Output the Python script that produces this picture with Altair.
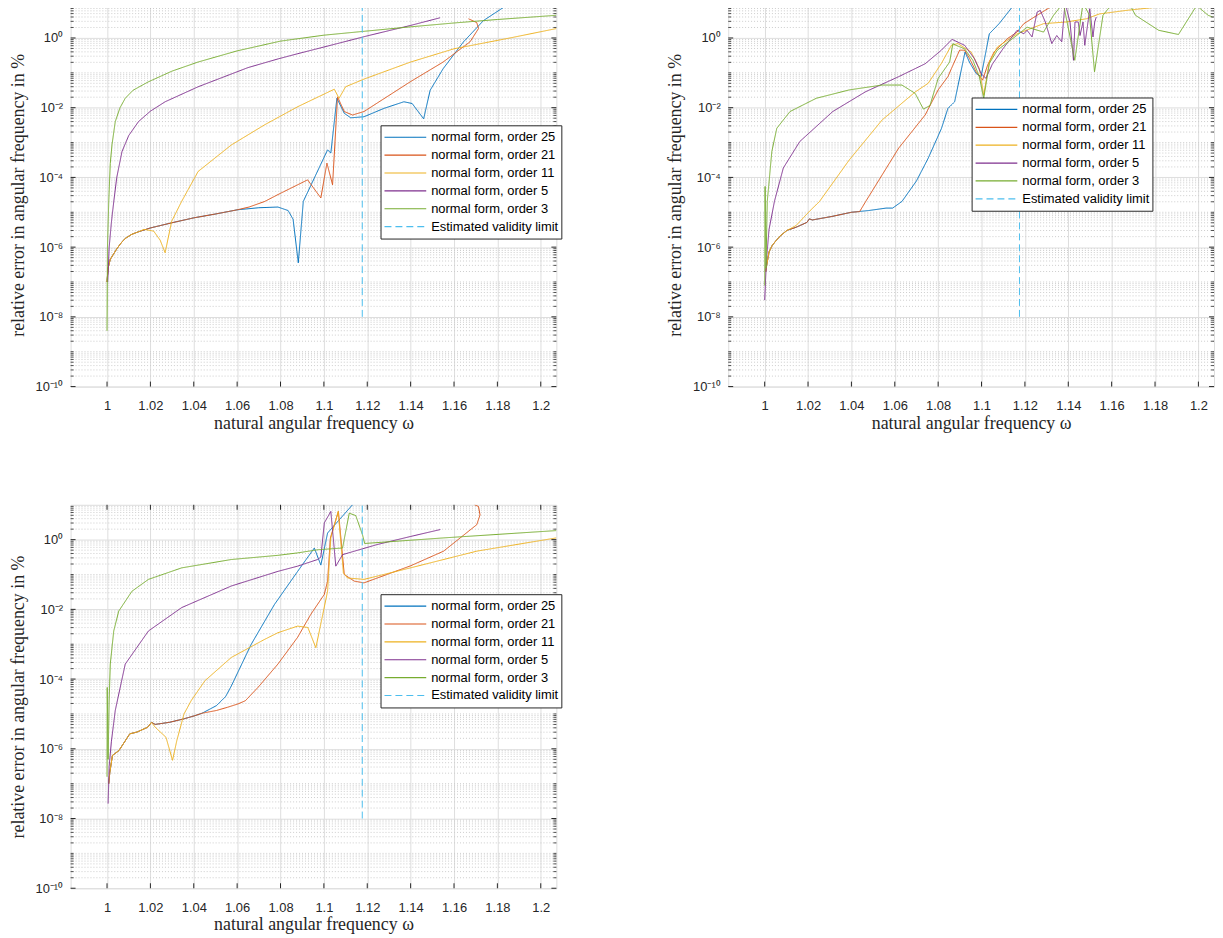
import altair as alt
import pandas as pd

# ---------------- categories / styling lists ----------------
SERIES = ["normal form, order 25", "normal form, order 21", "normal form, order 11",
          "normal form, order 5", "normal form, order 3", "Estimated validity limit"]
COLORS = ["#0072BD", "#D95319", "#EDB120", "#7E2F8E", "#77AC30", "#4DBEEE"]
DASHES = [[1, 0], [1, 0], [1, 0], [1, 0], [1, 0], [7, 4]]

X_TICKS = [1.0, 1.02, 1.04, 1.06, 1.08, 1.1, 1.12, 1.14, 1.16, 1.18, 1.2]
Y_TICKS = [1e-10, 1e-8, 1e-6, 1e-4, 1e-2, 1e0]
X_DOMAIN = [0.9832, 1.2072]
Y_DOMAIN = [1e-10, 10]

# ---------------- panel A (top left): omega and log10(error %) ----------------
A_o25_w = [1.0, 1.0005, 1.0015, 1.003, 1.0045, 1.0065, 1.0084, 1.0115, 1.0145, 1.02, 1.03, 1.04, 1.05, 1.06,
           1.07, 1.0788, 1.0835, 1.0858, 1.0882, 1.0905, 1.1017, 1.1032, 1.106, 1.1094, 1.1124, 1.1185, 1.1277,
           1.1369, 1.1407, 1.146, 1.149, 1.155, 1.1644, 1.1736, 1.1858]
A_o25_e = [-7.0, -6.6, -6.35, -6.2, -6.05, -5.88, -5.75, -5.63, -5.56, -5.45, -5.3, -5.16, -5.05, -4.93,
           -4.87, -4.85, -4.95, -5.2, -6.45, -4.69, -3.21, -3.3, -1.73, -2.16, -2.29, -2.26, -2.02,
           -1.83, -1.88, -2.32, -1.5, -0.88, -0.11, 0.5, 1.0]
A_o21_w = [1.0, 1.0005, 1.0015, 1.003, 1.0045, 1.0065, 1.0084, 1.0115, 1.0145, 1.02, 1.03, 1.04, 1.05, 1.06,
           1.0655, 1.0727, 1.0789, 1.0925, 1.0986, 1.1014, 1.104, 1.1063, 1.1094, 1.1132, 1.1185, 1.14, 1.155,
           1.1674, 1.1713, 1.1705, 1.1667]
A_o21_e = [-7.0, -6.6, -6.35, -6.2, -6.05, -5.88, -5.75, -5.63, -5.56, -5.45, -5.3, -5.16, -5.05, -4.93,
           -4.85, -4.69, -4.49, -4.07, -4.59, -3.59, -4.21, -1.69, -2.11, -2.21, -2.11, -1.25, -0.69,
           -0.11, 0.27, 0.44, 0.55]
A_o11_w = [1.0, 1.0005, 1.0015, 1.003, 1.0045, 1.0065, 1.0084, 1.0115, 1.0145, 1.017, 1.0215, 1.0245, 1.0268,
           1.0298, 1.0344, 1.042, 1.0573, 1.0727, 1.088, 1.1048, 1.107, 1.110, 1.1185, 1.14, 1.16, 1.1858, 1.2072]
A_o11_e = [-7.0, -6.6, -6.35, -6.2, -6.05, -5.88, -5.75, -5.63, -5.56, -5.49, -5.54, -5.8, -6.16,
           -5.26, -4.69, -3.83, -3.07, -2.49, -1.97, -1.47, -1.73, -1.4, -1.18, -0.69, -0.31, 0.0, 0.27]
A_o5_w = [1.0003, 1.001, 1.002, 1.0031, 1.0045, 1.0069, 1.01, 1.0145, 1.02, 1.0268, 1.042, 1.065, 1.0789,
          1.088, 1.1, 1.12, 1.14, 1.1536]
A_o5_e = [-7.0, -6.0, -5.3, -4.7, -4.0, -3.26, -2.8, -2.4, -2.1, -1.83, -1.4, -0.85, -0.6,
          -0.45, -0.26, 0.06, 0.36, 0.58]
A_o3_w = [1.0, 1.0002, 1.0008, 1.0015, 1.0023, 1.0038, 1.006, 1.0084, 1.012, 1.019, 1.03, 1.042, 1.06, 1.08,
          1.1, 1.12, 1.14, 1.16, 1.18, 1.2072]
A_o3_e = [-8.4, -6.0, -4.7, -3.6, -3.06, -2.4, -2.0, -1.73, -1.5, -1.26, -0.95, -0.69, -0.37, -0.09,
          0.08, 0.2, 0.32, 0.43, 0.53, 0.65]
A_lim_w = [1.1177, 1.1177]
A_lim_e = [-8.0, 1.0]

# ---------------- panel B (top right) ----------------
B_o25_w = [1.0005, 1.001, 1.002, 1.0035, 1.0053, 1.0075, 1.0103, 1.0145, 1.0195, 1.0206, 1.022, 1.031, 1.040,
           1.048, 1.056, 1.059, 1.0633, 1.07, 1.0754, 1.0815, 1.0845, 1.0876, 1.0924, 1.0944, 1.0975, 1.0998,
           1.102, 1.1036, 1.1081, 1.1142]
B_o25_e = [-6.7, -6.5, -6.14, -5.95, -5.81, -5.66, -5.52, -5.43, -5.29, -5.19, -5.22, -5.12, -5.0,
           -4.95, -4.88, -4.88, -4.69, -4.1, -3.45, -2.6, -2.02, -1.83, -0.4, -0.69, -1.02, -1.11,
           -0.4, 0.12, 0.41, 0.89]
B_o21_w = [1.0005, 1.001, 1.002, 1.0035, 1.0053, 1.0075, 1.0103, 1.0145, 1.0195, 1.0206, 1.022, 1.031, 1.040,
           1.0438, 1.0466, 1.0618, 1.074, 1.08, 1.0846, 1.0861, 1.0899, 1.0922, 1.0945, 1.0975, 1.1005, 1.1028,
           1.1058, 1.1119, 1.1164, 1.1195, 1.1256, 1.1316]
B_o21_e = [-6.7, -6.5, -6.14, -5.95, -5.81, -5.66, -5.52, -5.43, -5.29, -5.19, -5.22, -5.12, -5.0,
           -4.98, -4.69, -3.16, -2.21, -1.49, -1.1, -0.88, -0.35, -0.35, -0.59, -0.97, -1.21, -0.78,
           -0.4, -0.02, 0.17, 0.41, 0.65, 0.88]
B_o11_w = [1.0005, 1.001, 1.002, 1.0035, 1.0053, 1.0075, 1.0103, 1.0145, 1.021, 1.0253, 1.039, 1.0542, 1.0694,
           1.0754, 1.0815, 1.0861, 1.0891, 1.0952, 1.099, 1.101, 1.1036, 1.1073, 1.1164, 1.1286, 1.1392, 1.1483,
           1.1544, 1.1666, 1.1817, 1.1969, 1.2066]
B_o11_e = [-6.7, -6.5, -6.14, -5.95, -5.81, -5.66, -5.52, -5.38, -4.95, -4.69, -3.5, -2.35, -1.55,
           -1.3, -0.73, -0.21, -0.16, -0.4, -0.88, -1.64, -0.69, -0.26, 0.12, 0.41, 0.46, 0.55,
           0.69, 0.79, 0.89, 0.95, 0.97]
B_o5_w = [1.0, 1.0008, 1.002, 1.0045, 1.0086, 1.0162, 1.0314, 1.0466, 1.0618, 1.074, 1.0815, 1.0864, 1.0922,
          1.0967, 1.0998, 1.102, 1.105, 1.11, 1.1164, 1.1195, 1.121, 1.1233, 1.1256, 1.1271, 1.1294, 1.1324,
          1.1347, 1.137, 1.1385, 1.1408, 1.1424, 1.1431, 1.1446, 1.1454, 1.1468, 1.1476, 1.1491, 1.1499,
          1.1514, 1.1522, 1.1529]
B_o5_e = [-7.52, -6.4, -5.5, -4.69, -3.73, -2.97, -2.11, -1.54, -1.11, -0.74, -0.35, -0.04, -0.21,
          -0.59, -1.02, -1.16, -0.75, -0.3, 0.22, 0.12, 0.22, 0.03, 0.74, 0.79, 0.46, -0.16,
          0.07, -0.11, 1.0, 0.46, -0.64, 0.46, 0.46, 0.07, 0.46, -0.21, 0.46, 0.84,
          0.03, 0.46, 0.6]
B_o3_w = [1.0, 1.0002, 1.0006, 1.0012, 1.0033, 1.0056, 1.0117, 1.0238, 1.039, 1.0542, 1.0633, 1.0694, 1.0732,
          1.0762, 1.08, 1.0853, 1.0868, 1.0878, 1.0922, 1.096, 1.099, 1.101, 1.1036, 1.1073, 1.1164, 1.121,
          1.1286, 1.1332, 1.1377, 1.143, 1.1468, 1.1498, 1.1521, 1.156, 1.1605, 1.168, 1.171, 1.1817, 1.1908,
          1.1992, 1.2045, 1.2066]
B_o3_e = [-7.1, -4.26, -6.6, -4.69, -3.26, -2.59, -2.11, -1.73, -1.49, -1.35, -1.35, -1.59, -2.04,
          -1.94, -1.16, -0.69, -0.16, -0.2, -0.31, -0.64, -1.11, -1.73, -0.73, -0.35, 0.08, 0.31,
          0.17, 0.65, 1.0, -0.64, 1.0, 0.65, -0.97, 0.65, 1.0, 1.0, 0.65, 0.22, 0.1,
          0.93, 0.65, 0.6]
B_lim_w = [1.1175, 1.1175]
B_lim_e = [-8.0, 1.0]

# ---------------- panel C (bottom left) ----------------
C_o25_w = [1.0008, 1.0013, 1.0025, 1.0055, 1.0105, 1.0138, 1.0188, 1.0205, 1.0222, 1.0288, 1.0355, 1.0405,
           1.0438, 1.0505, 1.0547, 1.0573, 1.0665, 1.0772, 1.0879, 1.0956, 1.0986, 1.1017, 1.1132]
C_o25_e = [-7.0, -6.67, -6.19, -6.05, -5.57, -5.52, -5.38, -5.24, -5.3, -5.24, -5.14, -5.05,
           -4.98, -4.76, -4.5, -4.2, -3.0, -1.86, -0.91, -0.24, -0.73, 0.19, 1.0]
C_o21_w = [1.0008, 1.0013, 1.0025, 1.0055, 1.0105, 1.0138, 1.0188, 1.0205, 1.0222, 1.0288, 1.0355, 1.0405,
           1.0438, 1.0505, 1.0555, 1.0605, 1.0638, 1.0696, 1.0788, 1.0879, 1.094, 1.1002, 1.1017, 1.103,
           1.1067, 1.1094, 1.114, 1.1185, 1.14, 1.1552, 1.1705, 1.172, 1.1713, 1.1695]
C_o21_e = [-7.0, -6.67, -6.19, -6.05, -5.57, -5.52, -5.38, -5.24, -5.3, -5.24, -5.14, -5.05,
           -4.98, -4.9, -4.81, -4.71, -4.62, -4.24, -3.57, -2.8, -2.14, -1.57, -1.19, 0.05,
           0.81, -1.0, -1.19, -1.24, -0.75, -0.33, 0.43, 0.71, 0.95, 1.0]
C_o11_w = [1.0008, 1.0013, 1.0025, 1.0055, 1.0105, 1.0138, 1.0188, 1.0205, 1.0222, 1.0272, 1.0302, 1.0322,
           1.0355, 1.0388, 1.0451, 1.0573, 1.0727, 1.0788, 1.0879, 1.0926, 1.0963, 1.1017, 1.1032, 1.1066,
           1.109, 1.1109, 1.1185, 1.1399, 1.1705, 1.2072]
C_o11_e = [-7.0, -6.67, -6.19, -6.05, -5.57, -5.52, -5.38, -5.24, -5.38, -5.67, -6.33, -5.76,
           -5.0, -4.62, -4.05, -3.38, -2.86, -2.67, -2.48, -2.52, -3.1, -1.48, 0.05, 0.81,
           -0.95, -1.1, -1.14, -0.81, -0.33, 0.05]
C_o5_w = [1.0005, 1.001, 1.002, 1.0038, 1.0084, 1.0191, 1.0344, 1.0573, 1.0788, 1.0879, 1.0971, 1.0986,
          1.1002, 1.1032, 1.1055, 1.1086, 1.1246, 1.1399, 1.1537]
C_o5_e = [-7.57, -6.5, -5.8, -4.9, -3.57, -2.62, -1.95, -1.33, -0.91, -0.76, -0.57, -0.5,
          0.48, 0.81, -0.76, -0.43, -0.14, 0.09, 0.29]
C_o3_w = [1.0, 1.0001, 1.0005, 1.001, 1.0015, 1.0031, 1.0054, 1.0115, 1.0191, 1.0344, 1.0573, 1.0788,
          1.0879, 1.0971, 1.1086, 1.1117, 1.1147, 1.1178, 1.1188, 1.1552, 1.2072]
C_o3_e = [-6.8, -4.24, -6.3, -4.6, -3.57, -2.62, -2.05, -1.48, -1.14, -0.81, -0.57, -0.45,
          -0.38, -0.29, -0.24, 0.76, 0.69, 0.14, -0.11, 0.05, 0.26]
C_lim_w = [1.1177, 1.1177]
C_lim_e = [-8.0, 1.0]

# ---------------- layout / style ----------------
W, H = 489, 386
AX = "#262626"
GRID = "#dedede"
MINOR = "#cdcdcd"
Y_MINOR = [m * 10.0 ** d for d in range(-10, 1) for m in range(2, 10)] + [10.0 ** d for d in (-9, -7, -5, -3, -1)]

Y_LABELS = ("datum.value < 3e-10 ? '10⁻¹⁰' : datum.value < 3e-8 ? '10⁻⁸' : "
            "datum.value < 3e-6 ? '10⁻⁶' : datum.value < 3e-4 ? '10⁻⁴' : "
            "datum.value < 3e-2 ? '10⁻²' : '10⁰'")

XAXIS = alt.Axis(values=X_TICKS, format="~g", title="natural angular frequency ω",
                 grid=True, gridColor=GRID, gridWidth=1, ticks=False, domain=False,
                 labelFont="Liberation Sans", labelFontSize=13, labelColor=AX, labelPadding=13,
                 labelOverlap=False, labelFlush=False,
                 titleFont="Liberation Serif", titleFontSize=18, titleFontWeight="normal",
                 titleColor=AX, titlePadding=2)
YAXIS = alt.Axis(values=Y_TICKS, labelExpr=Y_LABELS, title="relative error in angular frequency in %",
                 grid=True, gridColor=GRID, gridWidth=1, ticks=False, domain=False,
                 labelFont="Liberation Sans", labelFontSize=13, labelColor=AX, labelPadding=8,
                 labelOverlap=False, labelFlush=False,
                 titleFont="Liberation Serif", titleFontSize=18, titleFontWeight="normal",
                 titleColor=AX, titlePadding=8)


def make_df(pairs):
    rows = []
    for name, (ws, es) in zip(SERIES, pairs):
        for i, (w, e) in enumerate(zip(ws, es)):
            rows.append({"series": name, "w": w, "e": e, "i": i})
    return pd.DataFrame(rows)


def panel(pairs, lx, ly):
    df = make_df(pairs)
    xs = alt.Scale(domain=X_DOMAIN, nice=False, zero=False)
    ys = alt.Scale(type="log", domain=Y_DOMAIN, nice=False)
    leg = alt.Legend(title=None, orient="none", legendX=lx, legendY=ly, symbolType="stroke",
                     symbolSize=1764, symbolStrokeWidth=1.2, clipHeight=18, rowPadding=0,
                     padding=3, labelFont="Liberation Sans", labelFontSize=13, labelColor="black",
                     labelOffset=4, labelLimit=400, fillColor="white", strokeColor=AX)

    def X(f):
        return alt.X(f, scale=xs, axis=XAXIS)

    def Y(f):
        return alt.Y(f, scale=ys, axis=YAXIS)

    minor = alt.Chart(pd.DataFrame({"v": Y_MINOR})).mark_rule(
        color=MINOR, strokeDash=[1, 2], strokeWidth=1).encode(y=Y("v:Q"))

    xt = pd.DataFrame({"w": X_TICKS})
    xt_bot = alt.Chart(xt).mark_rule(color=AX, strokeWidth=1).encode(
        x=X("w:Q"), y=alt.value(H), y2=alt.value(H - 5))
    xt_top = alt.Chart(xt).mark_rule(color=AX, strokeWidth=1).encode(
        x=X("w:Q"), y=alt.value(0), y2=alt.value(5))
    yt = pd.DataFrame({"v": Y_TICKS})
    ym = pd.DataFrame({"v": Y_MINOR})
    yt_l = alt.Chart(yt).mark_rule(color=AX, strokeWidth=1).encode(
        y=Y("v:Q"), x=alt.value(0), x2=alt.value(5))
    yt_r = alt.Chart(yt).mark_rule(color=AX, strokeWidth=1).encode(
        y=Y("v:Q"), x=alt.value(W), x2=alt.value(W - 5))
    ym_l = alt.Chart(ym).mark_rule(color=AX, strokeWidth=0.8).encode(
        y=Y("v:Q"), x=alt.value(0), x2=alt.value(3))
    ym_r = alt.Chart(ym).mark_rule(color=AX, strokeWidth=0.8).encode(
        y=Y("v:Q"), x=alt.value(W), x2=alt.value(W - 3))

    lines = alt.Chart(df).transform_calculate(err="pow(10, datum.e)").mark_line(
        clip=True, strokeWidth=1).encode(
        x=X("w:Q"),
        y=Y("err:Q"),
        color=alt.Color("series:N", scale=alt.Scale(domain=SERIES, range=COLORS), legend=leg),
        strokeDash=alt.StrokeDash("series:N", scale=alt.Scale(domain=SERIES, range=DASHES), legend=leg),
        order=alt.Order("i:Q"),
    )
    return alt.layer(minor, lines, xt_bot, xt_top, yt_l, yt_r, ym_l, ym_r).properties(width=W, height=H)


pA = panel([(A_o25_w, A_o25_e), (A_o21_w, A_o21_e), (A_o11_w, A_o11_e), (A_o5_w, A_o5_e),
            (A_o3_w, A_o3_e), (A_lim_w, A_lim_e)], 312, 123)
pB = panel([(B_o25_w, B_o25_e), (B_o21_w, B_o21_e), (B_o11_w, B_o11_e), (B_o5_w, B_o5_e),
            (B_o3_w, B_o3_e), (B_lim_w, B_lim_e)], 245, 95)
pC = panel([(C_o25_w, C_o25_e), (C_o21_w, C_o21_e), (C_o11_w, C_o11_e), (C_o5_w, C_o5_e),
            (C_o3_w, C_o3_e), (C_lim_w, C_lim_e)], 312, 90)

RES_S = dict(x="independent", y="independent", color="independent", strokeDash="independent")
RES_L = dict(color="independent", strokeDash="independent")

top = alt.hconcat(pA, pB, spacing=104).resolve_scale(**RES_S).resolve_legend(**RES_L)
chart = alt.vconcat(top, pC, spacing=71).resolve_scale(**RES_S).resolve_legend(**RES_L)
chart = chart.properties(padding={"left": 0, "top": -9, "right": 0, "bottom": 0}).configure_view(
    stroke=AX, strokeWidth=1).configure(background="white")

chart.save("out.html", embed_options={"renderer": "svg", "actions": False})
